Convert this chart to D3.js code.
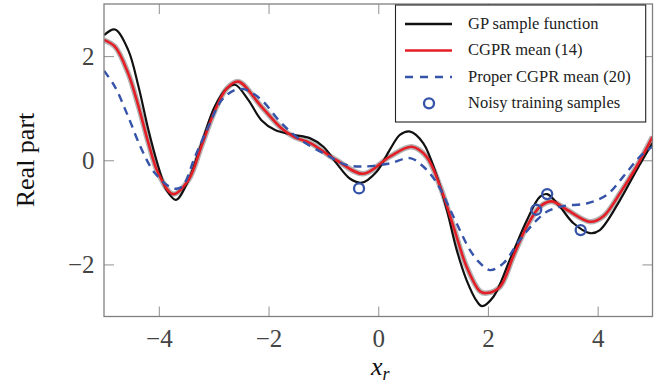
<!DOCTYPE html>
<html>
<head>
<meta charset="utf-8">
<script src="https://cdn.jsdelivr.net/npm/d3@7"></script>
<style>
  html, body { margin: 0; padding: 0; background: #fff; }
  svg { display: block; }
</style>
</head>
<body>
<svg id="chart" width="669" height="387"></svg>
<script>
// ---- data ----
const gpX = [-5, -4.8, -4.56, -4.37, -4.19, -4.01, -3.86, -3.69, -3.46, -3.22, -2.98, -2.76, -2.61, -2.37, -2.13, -1.88, -1.55, -1.24, -1.0, -0.76, -0.52, -0.3, -0.03, 0.21, 0.4, 0.58, 0.82, 1.07, 1.25, 1.43, 1.61, 1.8, 1.89, 2.1, 2.4, 2.71, 2.95, 3.08, 3.31, 3.56, 3.86, 4.04, 4.41, 4.71, 5.0];
const gpY = [2.40, 2.51, 2.12, 1.41, 0.58, -0.12, -0.57, -0.76, -0.38, 0.33, 1.03, 1.38, 1.45, 1.16, 0.77, 0.58, 0.49, 0.42, 0.26, -0.06, -0.35, -0.43, -0.22, 0.20, 0.49, 0.55, 0.33, -0.31, -0.95, -1.72, -2.30, -2.71, -2.80, -2.62, -1.91, -1.15, -0.70, -0.65, -0.89, -1.21, -1.40, -1.34, -0.76, -0.19, 0.33];

const cgprX = [-5, -4.8, -4.56, -4.37, -4.19, -4.01, -3.74, -3.46, -3.22, -2.98, -2.76, -2.55, -2.13, -1.76, -1.52, -1.24, -0.76, -0.27, 0.21, 0.61, 0.88, 1.13, 1.37, 1.61, 1.86, 1.98, 2.22, 2.46, 2.71, 2.95, 3.16, 3.44, 3.86, 4.1, 4.41, 4.71, 5.0];
const cgprY = [2.31, 2.18, 1.67, 1.03, 0.33, -0.25, -0.65, -0.38, 0.28, 0.95, 1.38, 1.51, 1.03, 0.61, 0.44, 0.33, 0.0, -0.26, 0.07, 0.26, 0.07, -0.51, -1.27, -2.04, -2.52, -2.55, -2.43, -1.85, -1.27, -0.89, -0.79, -0.95, -1.18, -1.08, -0.63, -0.12, 0.45];

const properX = [-5, -4.8, -4.56, -4.31, -4.07, -3.74, -3.58, -3.34, -3.1, -2.85, -2.61, -2.43, -2.13, -1.79, -1.43, -0.94, -0.58, -0.27, 0.21, 0.58, 0.82, 1.07, 1.37, 1.67, 1.86, 2.04, 2.28, 2.58, 2.89, 3.07, 3.37, 3.8, 4.16, 4.47, 4.77, 5.0];
const properY = [1.72, 1.41, 0.84, 0.20, -0.25, -0.54, -0.51, 0.07, 0.64, 1.16, 1.35, 1.36, 1.16, 0.74, 0.40, 0.10, -0.09, -0.12, -0.06, 0.04, -0.12, -0.44, -1.08, -1.72, -1.98, -2.11, -1.98, -1.53, -1.15, -0.99, -0.88, -0.83, -0.67, -0.31, 0.07, 0.26];

const sampleX = [-0.35, 2.88, 3.08, 3.69];
const sampleY = [-0.54, -0.95, -0.65, -1.34];

const xTicks = [-4, -2, 0, 2, 4];
const yTicks = [-2, 0, 2];
const legendLabels = ["GP sample function", "CGPR mean (14)", "Proper CGPR mean (20)", "Noisy training samples"];

// ---- layout ----
const L = 104, R = 652.5, T = 4, B = 316.5;
const svg = d3.select("#chart");
const x = d3.scaleLinear().domain([-5, 5]).range([L, R]);
const y = d3.scaleLinear().domain([-3, 3]).range([B, T]);
const fmt = d3.format("d");

const zip = (xs, ys) => xs.map((v, i) => [v, ys[i]]);
const line = d3.line().x(d => x(d[0])).y(d => y(d[1])).curve(d3.curveCatmullRom.alpha(0.5));

svg.append("clipPath").attr("id", "clip")
  .append("rect").attr("x", L).attr("y", T).attr("width", R - L).attr("height", B - T);

// axes (ticks inward on all four sides)
const tickCol = "#9a9a9a";
const fontTick = "'Liberation Serif', 'Times New Roman', serif";
const gx = svg.append("g").attr("transform", `translate(0,${B})`)
  .call(d3.axisBottom(x).tickValues(xTicks).tickFormat(fmt).tickSize(-10).tickPadding(0));
const gxt = svg.append("g").attr("transform", `translate(0,${T})`)
  .call(d3.axisTop(x).tickValues(xTicks).tickSize(-10).tickFormat(""));
const gy = svg.append("g").attr("transform", `translate(${L},0)`)
  .call(d3.axisLeft(y).tickValues(yTicks).tickFormat(fmt).tickSize(-10).tickPadding(0));
const gyr = svg.append("g").attr("transform", `translate(${R},0)`)
  .call(d3.axisRight(y).tickValues(yTicks).tickSize(-10).tickFormat(""));
[gx, gxt, gy, gyr].forEach(g => {
  g.attr("font-family", fontTick);
  g.select(".domain").remove();
  g.selectAll(".tick line").attr("stroke", tickCol).attr("stroke-width", 1.1);
});
gx.selectAll(".tick text")
  .attr("y", 30).attr("dy", null)
  .attr("font-family", fontTick).attr("font-size", 25).attr("fill", "#444");
gy.selectAll(".tick text")
  .attr("x", -9.5).attr("dy", 8.5)
  .attr("font-family", fontTick).attr("font-size", 25).attr("fill", "#444");

// curves
const plot = svg.append("g").attr("clip-path", "url(#clip)");
plot.append("path").datum(zip(cgprX, cgprY)).attr("d", line)
  .attr("fill", "none").attr("stroke", "#b4b4b4").attr("stroke-width", 5.5).attr("stroke-linejoin", "round");
plot.append("path").datum(zip(gpX, gpY)).attr("d", line)
  .attr("fill", "none").attr("stroke", "#111").attr("stroke-width", 2.2);
plot.append("path").datum(zip(cgprX, cgprY)).attr("d", line)
  .attr("fill", "none").attr("stroke", "#e41e26").attr("stroke-width", 2.6);
plot.append("path").datum(zip(properX, properY)).attr("d", line)
  .attr("fill", "none").attr("stroke", "#3553a8").attr("stroke-width", 2.4)
  .attr("stroke-dasharray", "8,6");
plot.selectAll("circle.s").data(zip(sampleX, sampleY)).enter().append("circle")
  .attr("class", "s").attr("cx", d => x(d[0])).attr("cy", d => y(d[1])).attr("r", 5)
  .attr("fill", "none").attr("stroke", "#3553a8").attr("stroke-width", 2.3);

// frame
svg.append("rect").attr("x", L).attr("y", T).attr("width", R - L).attr("height", B - T)
  .attr("fill", "none").attr("stroke", "#808080").attr("stroke-width", 1.3);

// axis labels
svg.append("text").attr("x", x(0) + 2).attr("y", 375)
  .attr("text-anchor", "middle").attr("font-family", fontTick).attr("font-size", 26)
  .attr("font-style", "italic").attr("fill", "#111")
  .call(t => {
    t.append("tspan").text("x");
    t.append("tspan").attr("font-size", 18).attr("dy", 5).text("r");
  });
svg.append("text").attr("transform", "translate(34,160) rotate(-90)")
  .attr("text-anchor", "middle").attr("font-family", fontTick).attr("font-size", 26)
  .attr("fill", "#111").text("Real part");

// legend
const lg = svg.append("g");
lg.append("rect").attr("x", 395.5).attr("y", 5).attr("width", 250.2).attr("height", 117)
  .attr("fill", "#fff").attr("stroke", "#222").attr("stroke-width", 1.1);
const rowY = [24, 50.5, 77, 103.3];
const styles = [
  {stroke: "#111", w: 2.4, dash: null},
  {stroke: "#e41e26", w: 2.6, dash: null},
  {stroke: "#3553a8", w: 2.4, dash: "8,7"},
  null
];
legendLabels.forEach((lab, i) => {
  const s = styles[i];
  if (s) {
    lg.append("line").attr("x1", 405).attr("x2", 452).attr("y1", rowY[i]).attr("y2", rowY[i])
      .attr("stroke", s.stroke).attr("stroke-width", s.w).attr("stroke-dasharray", s.dash);
  } else {
    lg.append("circle").attr("cx", 429).attr("cy", rowY[i]).attr("r", 5)
      .attr("fill", "none").attr("stroke", "#3553a8").attr("stroke-width", 2.3);
  }
  lg.append("text").attr("x", 468).attr("y", rowY[i] + 4.8)
    .attr("font-family", fontTick).attr("font-size", 16.5).attr("fill", "#222").text(lab);
});
</script>
</body>
</html>
